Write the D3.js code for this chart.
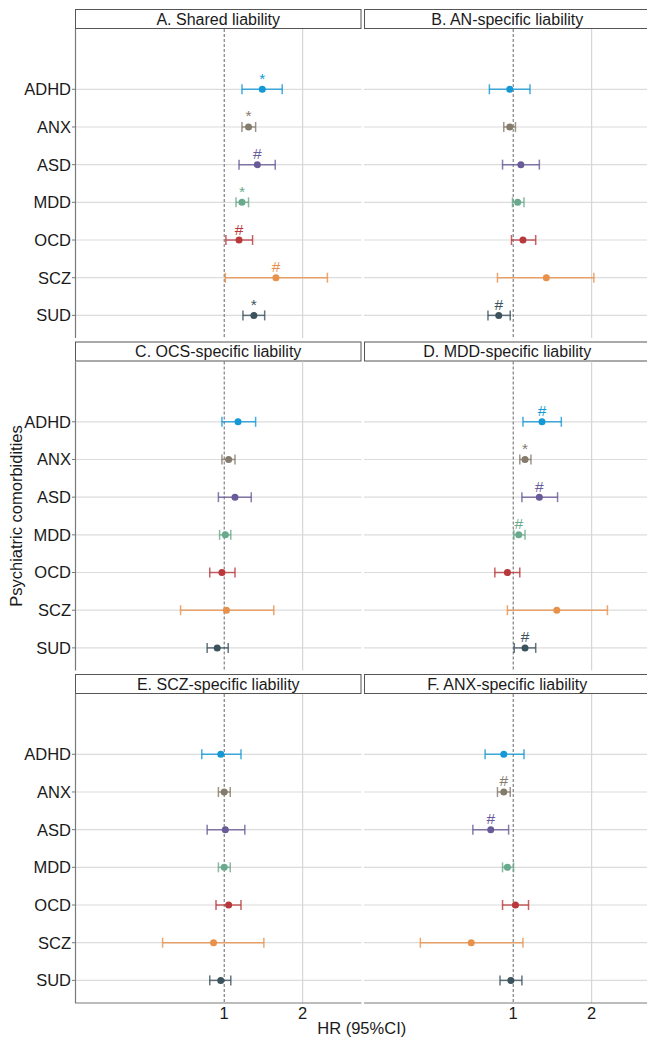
<!DOCTYPE html>
<html>
<head>
<meta charset="utf-8">
<script src="https://cdn.jsdelivr.net/npm/d3@7"></script>
<style>
  body { margin: 0; background: #fff; }
  text { font-family: "Liberation Sans", Arial, sans-serif; fill: #1a1a1a; }
</style>
</head>
<body>
<div id="chart"></div>
<script>
// Panels (facets) and comorbidity categories
const panels = [
  "A. Shared liability",
  "B. AN-specific liability",
  "C. OCS-specific liability",
  "D. MDD-specific liability",
  "E. SCZ-specific liability",
  "F. ANX-specific liability"
];
const categories = ["ADHD", "ANX", "ASD", "MDD", "OCD", "SCZ", "SUD"];

// Hazard ratios per panel, in category order
const hr = [
  [1.40, 1.24, 1.34, 1.17, 1.14, 1.58, 1.30],
  [0.97, 0.97, 1.07, 1.04, 1.09, 1.34, 0.88],
  [1.13, 1.04, 1.10, 1.01, 0.98, 1.02, 0.94],
  [1.29, 1.11, 1.26, 1.05, 0.95, 1.47, 1.11],
  [0.97, 1.00, 1.01, 1.00, 1.04, 0.91, 0.97],
  [0.92, 0.92, 0.82, 0.95, 1.02, 0.69, 0.98]
];
const lower = [
  [1.17, 1.17, 1.14, 1.11, 1.015, 1.01, 1.18],
  [0.81, 0.92, 0.91, 0.994, 0.985, 0.87, 0.80],
  [0.98, 0.98, 0.95, 0.96, 0.88, 0.68, 0.86],
  [1.09, 1.06, 1.08, 1.006, 0.85, 0.95, 1.009],
  [0.82, 0.95, 0.86, 0.95, 0.93, 0.58, 0.88],
  [0.78, 0.87, 0.70, 0.91, 0.91, 0.44, 0.89]
];
const upper = [
  [1.67, 1.32, 1.57, 1.24, 1.285, 2.49, 1.43],
  [1.16, 1.02, 1.26, 1.10, 1.22, 2.04, 0.974],
  [1.32, 1.10, 1.27, 1.06, 1.10, 1.55, 1.036],
  [1.53, 1.17, 1.48, 1.11, 1.06, 2.30, 1.22],
  [1.16, 1.055, 1.20, 1.055, 1.16, 1.42, 1.06],
  [1.10, 0.974, 0.96, 1.003, 1.145, 1.09, 1.08]
];
// Significance marks shown above the point
const marks = [
  ["*", "*", "#", "*", "#", "#", "*"],
  ["", "", "", "", "", "", "#"],
  ["", "", "", "", "", "", ""],
  ["#", "*", "#", "#", "", "", "#"],
  ["", "", "", "", "", "", ""],
  ["", "#", "#", "", "", "", ""]
];
const xTicks = [1, 2];
const xLimits = [0.3, 3];

const colors = ["#1499d6", "#857b6c", "#695a99", "#69aa8c", "#b9383c", "#e8914a", "#3c535d"];

const W = 647, H = 1039;
const margin = { left: 75, top: 9 },
  panelW = 286.5, colGap = 2.5,
  stripH = 20, plotH = 309, rowPitch = 332.5;

const svg = d3.select("#chart").append("svg")
  .attr("width", W)
  .attr("height", H);

// log x scale, limits expanded 5% each side like ggplot
const l0 = Math.log10(xLimits[0]), l1 = Math.log10(xLimits[1]), pad = (l1 - l0) * 0.05;
const x = d3.scaleLog()
  .domain([Math.pow(10, l0 - pad), Math.pow(10, l1 + pad)])
  .range([0, panelW]);

// an empty level on top leaves the blank space above ADHD
const y = d3.scalePoint()
  .domain([" "].concat(categories))
  .range([0, plotH])
  .padding(0.6);

panels.forEach((title, p) => {
  const col = p % 2, row = Math.floor(p / 2);
  const px = margin.left + col * (panelW + colGap);
  const py = margin.top + row * rowPitch;

  const g = svg.append("g").attr("transform", `translate(${px},${py})`);

  // strip
  g.append("rect")
    .attr("x", 0.5).attr("y", 0.5)
    .attr("width", panelW - 1).attr("height", stripH - 1)
    .attr("fill", "#fff")
    .attr("stroke", "#555")
    .attr("stroke-width", 1);
  g.append("text")
    .attr("x", panelW / 2).attr("y", stripH / 2 + 5.5)
    .attr("text-anchor", "middle")
    .style("font-size", "16px")
    .text(title);

  const plot = g.append("g").attr("transform", `translate(0,${stripH})`);

  // horizontal grid
  plot.selectAll(".hgrid")
    .data(categories)
    .enter().append("line")
    .attr("x1", 0).attr("x2", panelW)
    .attr("y1", d => y(d)).attr("y2", d => y(d))
    .attr("stroke", "#dcdcdc")
    .attr("stroke-width", 1.2);

  // vertical grid at 2, dashed reference at 1
  plot.append("line")
    .attr("x1", x(2)).attr("x2", x(2))
    .attr("y1", 0).attr("y2", plotH)
    .attr("stroke", "#d6d6d6")
    .attr("stroke-width", 1.2);
  plot.append("line")
    .attr("x1", x(1)).attr("x2", x(1))
    .attr("y1", 0).attr("y2", plotH)
    .attr("stroke", "#666")
    .attr("stroke-width", 1)
    .attr("stroke-dasharray", "3,2");

  const rows = categories.map((c, i) => ({
    cat: c, est: hr[p][i], lo: lower[p][i], hi: upper[p][i], mark: marks[p][i], color: colors[i]
  }));

  const bar = plot.selectAll(".ci")
    .data(rows)
    .enter().append("g")
    .attr("class", "ci");

  bar.append("line")
    .attr("x1", d => x(d.lo)).attr("x2", d => x(d.hi))
    .attr("y1", d => y(d.cat)).attr("y2", d => y(d.cat))
    .attr("stroke", d => d.color)
    .attr("stroke-opacity", 0.8)
    .attr("stroke-width", 1.5);
  ["lo", "hi"].forEach(k => {
    bar.append("line")
      .attr("x1", d => x(d[k])).attr("x2", d => x(d[k]))
      .attr("y1", d => y(d.cat) - 5).attr("y2", d => y(d.cat) + 5)
      .attr("stroke", d => d.color)
      .attr("stroke-opacity", 0.8)
      .attr("stroke-width", 1.5);
  });
  bar.append("circle")
    .attr("cx", d => x(d.est))
    .attr("cy", d => y(d.cat))
    .attr("r", 3.5)
    .attr("fill", d => d.color);
  bar.append("text")
    .attr("x", d => x(d.est))
    .attr("y", d => y(d.cat) - 5.5)
    .attr("text-anchor", "middle")
    .style("font-size", "15.5px")
    .style("fill", d => d.color)
    .text(d => d.mark);

  // y axis on left column only
  if (col === 0) {
    plot.append("line")
      .attr("x1", 0.5).attr("x2", 0.5)
      .attr("y1", 0).attr("y2", plotH)
      .attr("stroke", "#7a7a7a")
      .attr("stroke-width", 1.2);
    plot.selectAll(".ytick")
      .data(categories)
      .enter().append("line")
      .attr("x1", -3).attr("x2", 0)
      .attr("y1", d => y(d)).attr("y2", d => y(d))
      .attr("stroke", "#7a7a7a");
    plot.selectAll(".ylab")
      .data(categories)
      .enter().append("text")
      .attr("x", -4)
      .attr("y", d => y(d))
      .attr("dy", "0.36em")
      .attr("text-anchor", "end")
      .style("font-size", "16.5px")
      .text(d => d);
  }

  // x axis on bottom row only
  if (row === 2) {
    plot.append("line")
      .attr("x1", 0).attr("x2", panelW)
      .attr("y1", plotH).attr("y2", plotH)
      .attr("stroke", "#7a7a7a")
      .attr("stroke-width", 1.2);
    plot.selectAll(".xtick")
      .data(xTicks)
      .enter().append("text")
      .attr("x", d => x(d))
      .attr("y", plotH + 15.5)
      .attr("text-anchor", "middle")
      .style("font-size", "16.5px")
      .text(d => d);
  }
});

// axis titles
const plotsLeft = margin.left, plotsRight = margin.left + 2 * panelW + colGap;
svg.append("text")
  .attr("x", (plotsLeft + plotsRight) / 2 - 1)
  .attr("y", 1034)
  .attr("text-anchor", "middle")
  .style("font-size", "16.5px")
  .text("HR (95%CI)");

const yMid = (margin.top + stripH + (margin.top + 2 * rowPitch + stripH + plotH)) / 2;
svg.append("text")
  .attr("transform", `translate(22,${yMid}) rotate(-90)`)
  .attr("text-anchor", "middle")
  .style("font-size", "16.5px")
  .text("Psychiatric comorbidities");
</script>
</body>
</html>
